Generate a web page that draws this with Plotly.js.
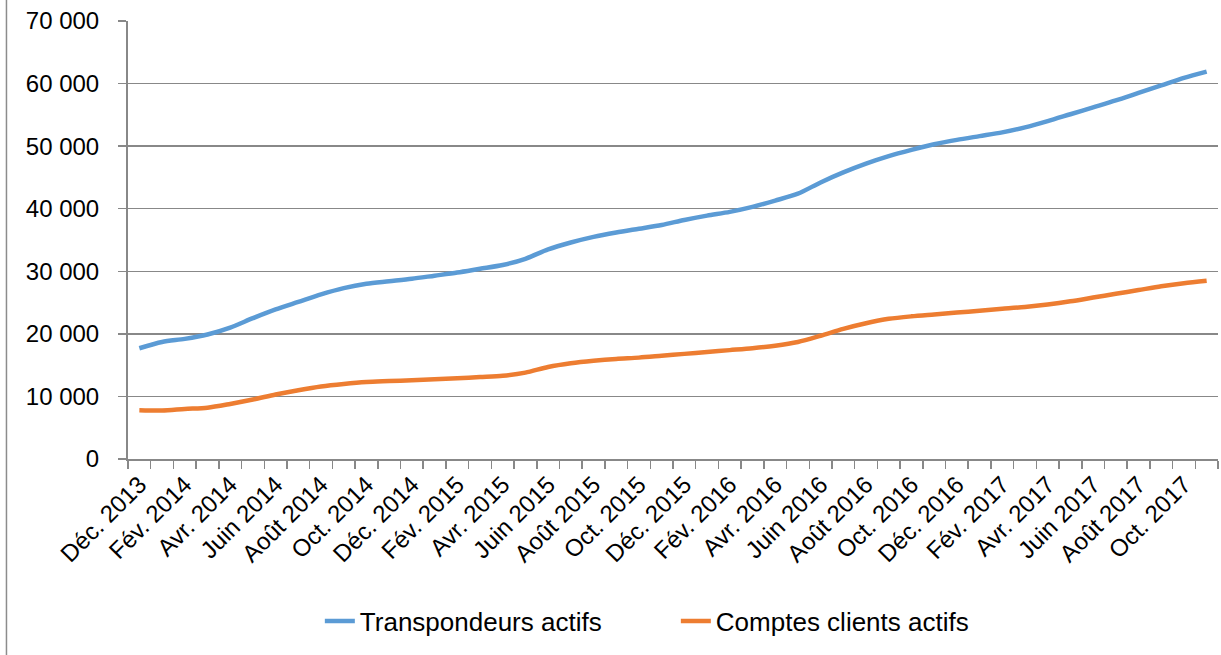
<!DOCTYPE html>
<html>
<head>
<meta charset="utf-8">
<script src="https://cdn.plot.ly/plotly-3.0.1.min.js"></script>
<style>
  html, body { margin: 0; padding: 0; background: #fff; }
  #chart { width: 1221px; height: 655px; }
</style>
</head>
<body>
<div id="chart"></div>
<script>
// Monthly categories, Déc. 2013 – Nov. 2017
var months = [
  "Déc. 2013",
  "Janv. 2014", "Fév. 2014", "Mars 2014", "Avr. 2014", "Mai 2014", "Juin 2014",
  "Juil. 2014", "Août 2014", "Sept. 2014", "Oct. 2014", "Nov. 2014", "Déc. 2014",
  "Janv. 2015", "Fév. 2015", "Mars 2015", "Avr. 2015", "Mai 2015", "Juin 2015",
  "Juil. 2015", "Août 2015", "Sept. 2015", "Oct. 2015", "Nov. 2015", "Déc. 2015",
  "Janv. 2016", "Fév. 2016", "Mars 2016", "Avr. 2016", "Mai 2016", "Juin 2016",
  "Juil. 2016", "Août 2016", "Sept. 2016", "Oct. 2016", "Nov. 2016", "Déc. 2016",
  "Janv. 2017", "Fév. 2017", "Mars 2017", "Avr. 2017", "Mai 2017", "Juin 2017",
  "Juil. 2017", "Août 2017", "Sept. 2017", "Oct. 2017", "Nov. 2017"
];

var transpondeursActifs = [
  17700,
  18700, 19200, 19900, 21000, 22500, 23900,
  25100, 26300, 27300, 28000, 28400, 28800,
  29300, 29800, 30400, 31000, 32000, 33500,
  34600, 35500, 36200, 36800, 37400, 38200,
  38900, 39500, 40300, 41300, 42400, 44200,
  45800, 47200, 48400, 49400, 50300, 51000,
  51600, 52200, 53000, 54000, 55100, 56200,
  57300, 58500, 59700, 60900, 61900
];

var comptesClientsActifs = [
  7800,
  7750, 8000, 8200, 8800, 9500, 10300,
  11000, 11600, 12000, 12300, 12450, 12600,
  12750, 12900, 13100, 13300, 13800, 14700,
  15300, 15700, 16000, 16200, 16500, 16800,
  17100, 17400, 17700, 18100, 18700, 19700,
  20800, 21700, 22400, 22800, 23100, 23400,
  23700, 24000, 24300, 24700, 25200, 25800,
  26400, 27000, 27600, 28100, 28500
];

var seriesNames = ["Transpondeurs actifs", "Comptes clients actifs"];

// Every second month is labelled on the axis
var idx = months.map(function (m, i) { return i; });
var labelIdx = idx.filter(function (i) { return i % 2 === 0; });
var labelText = labelIdx.map(function (i) { return months[i]; });

var FONT = "Liberation Sans, Arial, sans-serif";
var GRID = "#888888";

var traces = [
  {
    x: idx, y: transpondeursActifs, name: seriesNames[0], text: months,
    type: "scatter", mode: "lines",
    line: { color: "#5B9BD5", width: 4.5, shape: "spline", smoothing: 0.8 },
    hovertemplate: "%{text}: %{y}<extra></extra>"
  },
  {
    x: idx, y: comptesClientsActifs, name: seriesNames[1], text: months,
    type: "scatter", mode: "lines",
    line: { color: "#ED7D31", width: 4.5, shape: "spline", smoothing: 0.8 },
    hovertemplate: "%{text}: %{y}<extra></extra>"
  }
];

var layout = {
  width: 1221, height: 655,
  paper_bgcolor: "#ffffff", plot_bgcolor: "#ffffff",
  margin: { l: 128, r: 3, t: 21, b: 196, pad: 0 },
  separators: ", ",
  font: { family: FONT, size: 24, color: "#000000" },
  showlegend: true,
  legend: {
    orientation: "h",
    x: 0.176, xanchor: "left",
    y: -0.37, yanchor: "middle",
    font: { family: FONT, size: 26, color: "#000000" },
    entrywidth: 311, entrywidthmode: "pixels",
    bgcolor: "rgba(0,0,0,0)"
  },
  xaxis: {
    type: "linear",
    range: [-0.5, months.length - 0.5],
    tickmode: "array",
    tickvals: labelIdx,
    ticktext: labelText,
    tickangle: -45,
    ticks: "",
    showgrid: false,
    zeroline: false,
    showline: true, linecolor: GRID, linewidth: 2,
    tickfont: { family: FONT, size: 24, color: "#000000" },
    minor: {
      tickmode: "linear", tick0: -0.5, dtick: 1,
      ticks: "outside", ticklen: 8, tickwidth: 1.5, tickcolor: GRID,
      showgrid: false
    },
    fixedrange: true
  },
  yaxis: {
    range: [0, 70000],
    tickmode: "linear", tick0: 0, dtick: 10000,
    tickformat: ",d",
    ticks: "outside", ticklen: 8, tickwidth: 1.5, tickcolor: GRID,
    ticklabelstandoff: 14,
    showgrid: true, gridcolor: GRID, gridwidth: 1.5,
    zeroline: false,
    showline: true, linecolor: GRID, linewidth: 2,
    tickfont: { family: FONT, size: 24, color: "#000000" },
    fixedrange: true
  },
  shapes: [
    {
      type: "line", xref: "paper", yref: "paper",
      x0: -0.1115, x1: -0.1115, y0: -1, y1: 2,
      line: { color: "#8c8c8c", width: 1.5 }
    }
  ]
};

Plotly.newPlot("chart", traces, layout, { displayModeBar: false, staticPlot: true });
</script>
</body>
</html>
